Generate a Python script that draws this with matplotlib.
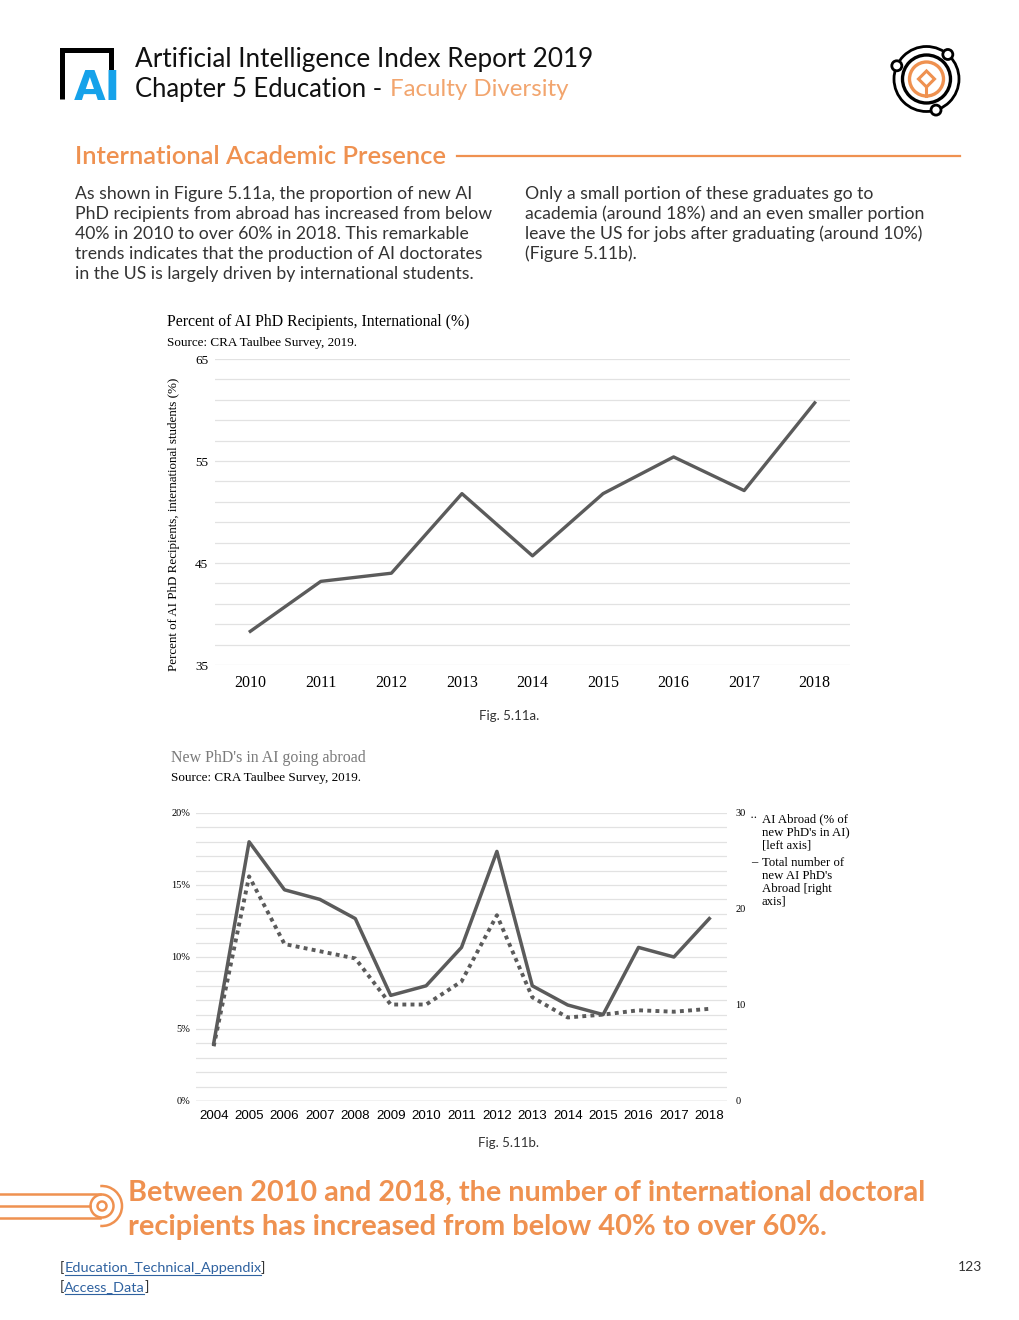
import numpy as np
import matplotlib
matplotlib.use('Agg')
import matplotlib.pyplot as plt
from matplotlib.patches import Circle, Arc, Polygon
from matplotlib.ticker import FuncFormatter

W, H = 1020, 1320

# Fig 5.11a - percent of AI PhD recipients who are international
years_a = [2010, 2011, 2012, 2013, 2014, 2015, 2016, 2017, 2018]
intl_pct = [38.3, 43.2, 44.0, 51.8, 45.7, 51.8, 55.4, 52.1, 60.7]

# Fig 5.11b - new AI PhDs going abroad
years_b = list(range(2004, 2019))
abroad_pct = [3.8, 15.6, 10.9, 10.4, 9.9, 6.7, 6.7, 8.3, 12.9, 7.2, 5.8, 6.0, 6.3, 6.2, 6.4]
abroad_total = [6, 27, 22, 21, 19, 11, 12, 16, 26, 12, 10, 9, 16, 15, 19]

left_text = ["As shown in Figure 5.11a, the proportion of new AI",
             "PhD recipients from abroad has increased from below",
             "40% in 2010 to over 60% in 2018. This remarkable",
             "trends indicates that the production of AI doctorates",
             "in the US is largely driven by international students."]
right_text = ["Only a small portion of these graduates go to",
              "academia (around 18%) and an even smaller portion",
              "leave the US for jobs after graduating (around 10%)",
              "(Figure 5.11b)."]
legend_a = ["AI Abroad (% of", "new PhD's in AI)", "[left axis]"]
legend_b = ["Total number of", "new AI PhD's", "Abroad [right", "axis]"]

ORANGE = '#ef9150'
ORANGE_LT = '#f2a56e'
LINE = '#5b5b5b'
GRID = '#e2e2e2'
TEXT = '#333333'
SANS = 'Lato'
SERIF = 'Liberation Serif'
ARIAL = 'Liberation Sans'

plt.rcParams['font.family'] = SERIF

fig = plt.figure(figsize=(W / 100, H / 100), dpi=100)
deco = fig.add_axes([0, 0, 1, 1])
deco.set_xlim(0, W)
deco.set_ylim(H, 0)
deco.axis('off')
renderer = fig.canvas.get_renderer()


def extent(t):
    bb = t.get_window_extent(renderer)
    pts = deco.transData.inverted().transform([[bb.x0, bb.y0], [bb.x1, bb.y1]])
    return pts[0][0], pts[1][0], min(pts[0][1], pts[1][1]), max(pts[0][1], pts[1][1])


def put(x, y, s, width=None, **kw):
    t = deco.text(x, y, s, **kw)
    if width:
        x0, x1, _, _ = extent(t)
        t.set_fontsize(t.get_fontsize() * width / (x1 - x0))
    return t


# ---- header
deco.plot([62, 62, 111, 111], [99, 49.5, 49.5, 70], color='black', lw=3.6,
          solid_joinstyle='miter', solid_capstyle='butt')
put(74, 89, 'AI', width=47, fontsize=22, family='DejaVu Sans', weight='heavy',
    color='#16a2ea', va='center', ha='left')

put(135, 60, 'Artificial Intelligence Index Report 2019', width=457,
    fontsize=17, family=SANS, va='center', color='#111111')
put(135, 90, 'Chapter 5 Education -', width=247, fontsize=17, family=SANS,
    va='center', color='#111111')
put(390, 90, 'Faculty Diversity', width=178, fontsize=17, family=SANS,
    va='center', color=ORANGE_LT)

# right icon
cx, cy = 926.5, 79
deco.add_patch(Circle((cx, cy), 32.5, fill=False, ec='black', lw=2.0))
deco.add_patch(Circle((cx, cy), 24, fill=False, ec='black', lw=2.4))
deco.add_patch(Circle((cx, cy), 17, fill=False, ec=ORANGE, lw=2.4))
deco.add_patch(Polygon([(cx, cy - 8), (cx + 8, cy), (cx, cy + 8), (cx - 8, cy)],
                       closed=True, fill=False, ec=ORANGE, lw=2.2))
deco.plot([cx, cx], [cy + 8, cy + 17], color=ORANGE, lw=2.2)
for ang in [49, 156, 287]:
    a = np.deg2rad(ang)
    deco.add_patch(Circle((cx + 32.5 * np.cos(a), cy - 32.5 * np.sin(a)), 5,
                          fc='white', ec='black', lw=2.0, zorder=3))

# ---- section heading
put(75, 156, 'International Academic Presence', width=372, fontsize=16,
    family=SANS, weight='semibold', color=ORANGE, va='center')
deco.plot([457, 960], [156, 156], color=ORANGE, lw=1.6)

tb = put(75, 214, left_text[1], width=418, fontsize=12.5, family=SANS,
         color=TEXT, va='center')
fs_body = tb.get_fontsize()
for i, s in enumerate(left_text):
    if i != 1:
        put(75, 194 + 20 * i, s, fontsize=fs_body, family=SANS,
            color=TEXT, va='center')
for i, s in enumerate(right_text):
    put(525, 194 + 20 * i, s, fontsize=fs_body, family=SANS,
        color=TEXT, va='center')

# ---- Fig 5.11a
put(167, 322, 'Percent of AI PhD Recipients, International (%)', width=303,
    fontsize=11, color='black', va='center')
put(167, 343, 'Source: CRA Taulbee Survey, 2019.', width=190, fontsize=9,
    color='black', va='center')
deco.text(174, 524, 'Percent of AI PhD Recipients, international students (%)',
          rotation=90, fontsize=9.4, va='center', ha='center', color='black')

ax1 = fig.add_axes([215 / W, 1 - 665 / H, 635 / W, 306 / H])
ax1.set_facecolor('none')
ax1.plot(years_a, intl_pct, color=LINE, lw=2.4)
ax1.set_xlim(2009.5, 2018.5)
ax1.set_ylim(35, 65)
ax1.set_xticks(years_a)
ax1.set_yticks([35, 45, 55, 65])
ax1.set_yticks(np.arange(35, 66, 2), minor=True)
ax1.grid(True, which='both', axis='y', color=GRID, lw=0.9)
ax1.set_axisbelow(True)
for s in ax1.spines.values():
    s.set_visible(False)
ax1.tick_params(axis='both', which='both', length=0)
ax1.tick_params(axis='y', labelsize=9.5, pad=5)
ax1.tick_params(axis='x', labelsize=11.5, pad=7)

put(509, 716, 'Fig. 5.11a.', fontsize=9.5, family=SANS,
    color=TEXT, va='center', ha='center')

# ---- Fig 5.11b
put(171, 758, "New PhD's in AI going abroad", width=194, fontsize=11,
    color='#7a7a7a', va='center')
put(171, 778, 'Source: CRA Taulbee Survey, 2019.', width=191, fontsize=9,
    color='black', va='center')

ax2 = fig.add_axes([196 / W, 1 - 1101 / H, 531 / W, 288 / H])
ax2.set_facecolor('none')
ax2.plot(years_b, abroad_pct, color=LINE, lw=2.8, ls=(0, (1, 1.1)))
ax2.set_xlim(2003.5, 2018.5)
ax2.set_ylim(0, 20)
ax2.set_xticks(years_b)
ax2.set_yticks([0, 5, 10, 15, 20])
ax2.set_yticks(np.arange(0, 21, 1), minor=True)
ax2.yaxis.set_major_formatter(FuncFormatter(lambda v, p: '%d%%' % v))
ax2.grid(True, which='both', axis='y', color=GRID, lw=0.9)
ax2.axhline(0, color='#cccccc', lw=1.0)
ax2.set_axisbelow(True)
ax2.tick_params(axis='both', which='both', length=0)
ax2.tick_params(axis='y', labelsize=7.5, pad=4)
ax2.tick_params(axis='x', labelsize=9.6, pad=6.5)
for lbl in ax2.get_xticklabels():
    lbl.set_family(ARIAL)

ax2r = ax2.twinx()
ax2r.plot(years_b, abroad_total, color=LINE, lw=2.5)
ax2r.set_ylim(0, 30)
ax2r.set_yticks([0, 10, 20, 30])
ax2r.tick_params(axis='y', length=0, labelsize=7.5, pad=6)
for a in (ax2, ax2r):
    for s in a.spines.values():
        s.set_visible(False)

deco.text(750, 818, '··', fontsize=9, va='center', ha='left', color='black')
for i, s in enumerate(legend_a):
    deco.text(762, 819 + 13 * i, s, fontsize=9.2, va='center', ha='left', color='black')
deco.text(751, 862, '–', fontsize=9, va='center', ha='left', color='black')
for i, s in enumerate(legend_b):
    deco.text(762, 863 + 13 * i, s, fontsize=9.2, va='center', ha='left', color='black')

put(509, 1143, 'Fig. 5.11b.', fontsize=9.5, family=SANS,
    color=TEXT, va='center', ha='center')

# ---- callout
for yy in (1194, 1218):
    deco.plot([0, 100], [yy, yy], color=ORANGE, lw=1.8)
deco.plot([0, 90.5], [1206, 1206], color=ORANGE, lw=1.8)
deco.add_patch(Circle((102, 1206), 11.5, fill=False, ec=ORANGE, lw=1.8))
deco.add_patch(Circle((102, 1206), 4.5, fill=False, ec=ORANGE, lw=1.8))
deco.add_patch(Arc((102, 1206), 40, 40, theta1=-95, theta2=95, ec=ORANGE, lw=1.8))

put(128, 1193, 'Between 2010 and 2018, the number of international doctoral',
    width=794, fontsize=19, family=SANS, weight='bold', color=ORANGE, va='center')
put(128, 1227, 'recipients has increased from below 40% to over 60%.',
    width=697, fontsize=19, family=SANS, weight='bold', color=ORANGE, va='center')

# ---- footer
LINK = '#2f62a0'
for yy, label in ((1268, 'Education_Technical_Appendix'), (1287, 'Access_Data')):
    b1 = put(60, yy, '[', fontsize=10.4, family=SANS, color=TEXT, va='center')
    xb = extent(b1)[1]
    tl = put(xb, yy, label, fontsize=10.4, family=SANS, color=LINK, va='center')
    lx0, lx1, _, _ = extent(tl)
    deco.plot([lx0 + 1, lx1 - 1], [yy + 6.5, yy + 6.5], color=LINK, lw=0.8)
    put(lx1 - 1, yy, ']', fontsize=10.4, family=SANS, color=TEXT, va='center')
put(982, 1267, '123', fontsize=10, family=SANS, color=TEXT, va='center', ha='right')

fig.savefig('out.png', dpi=100)
